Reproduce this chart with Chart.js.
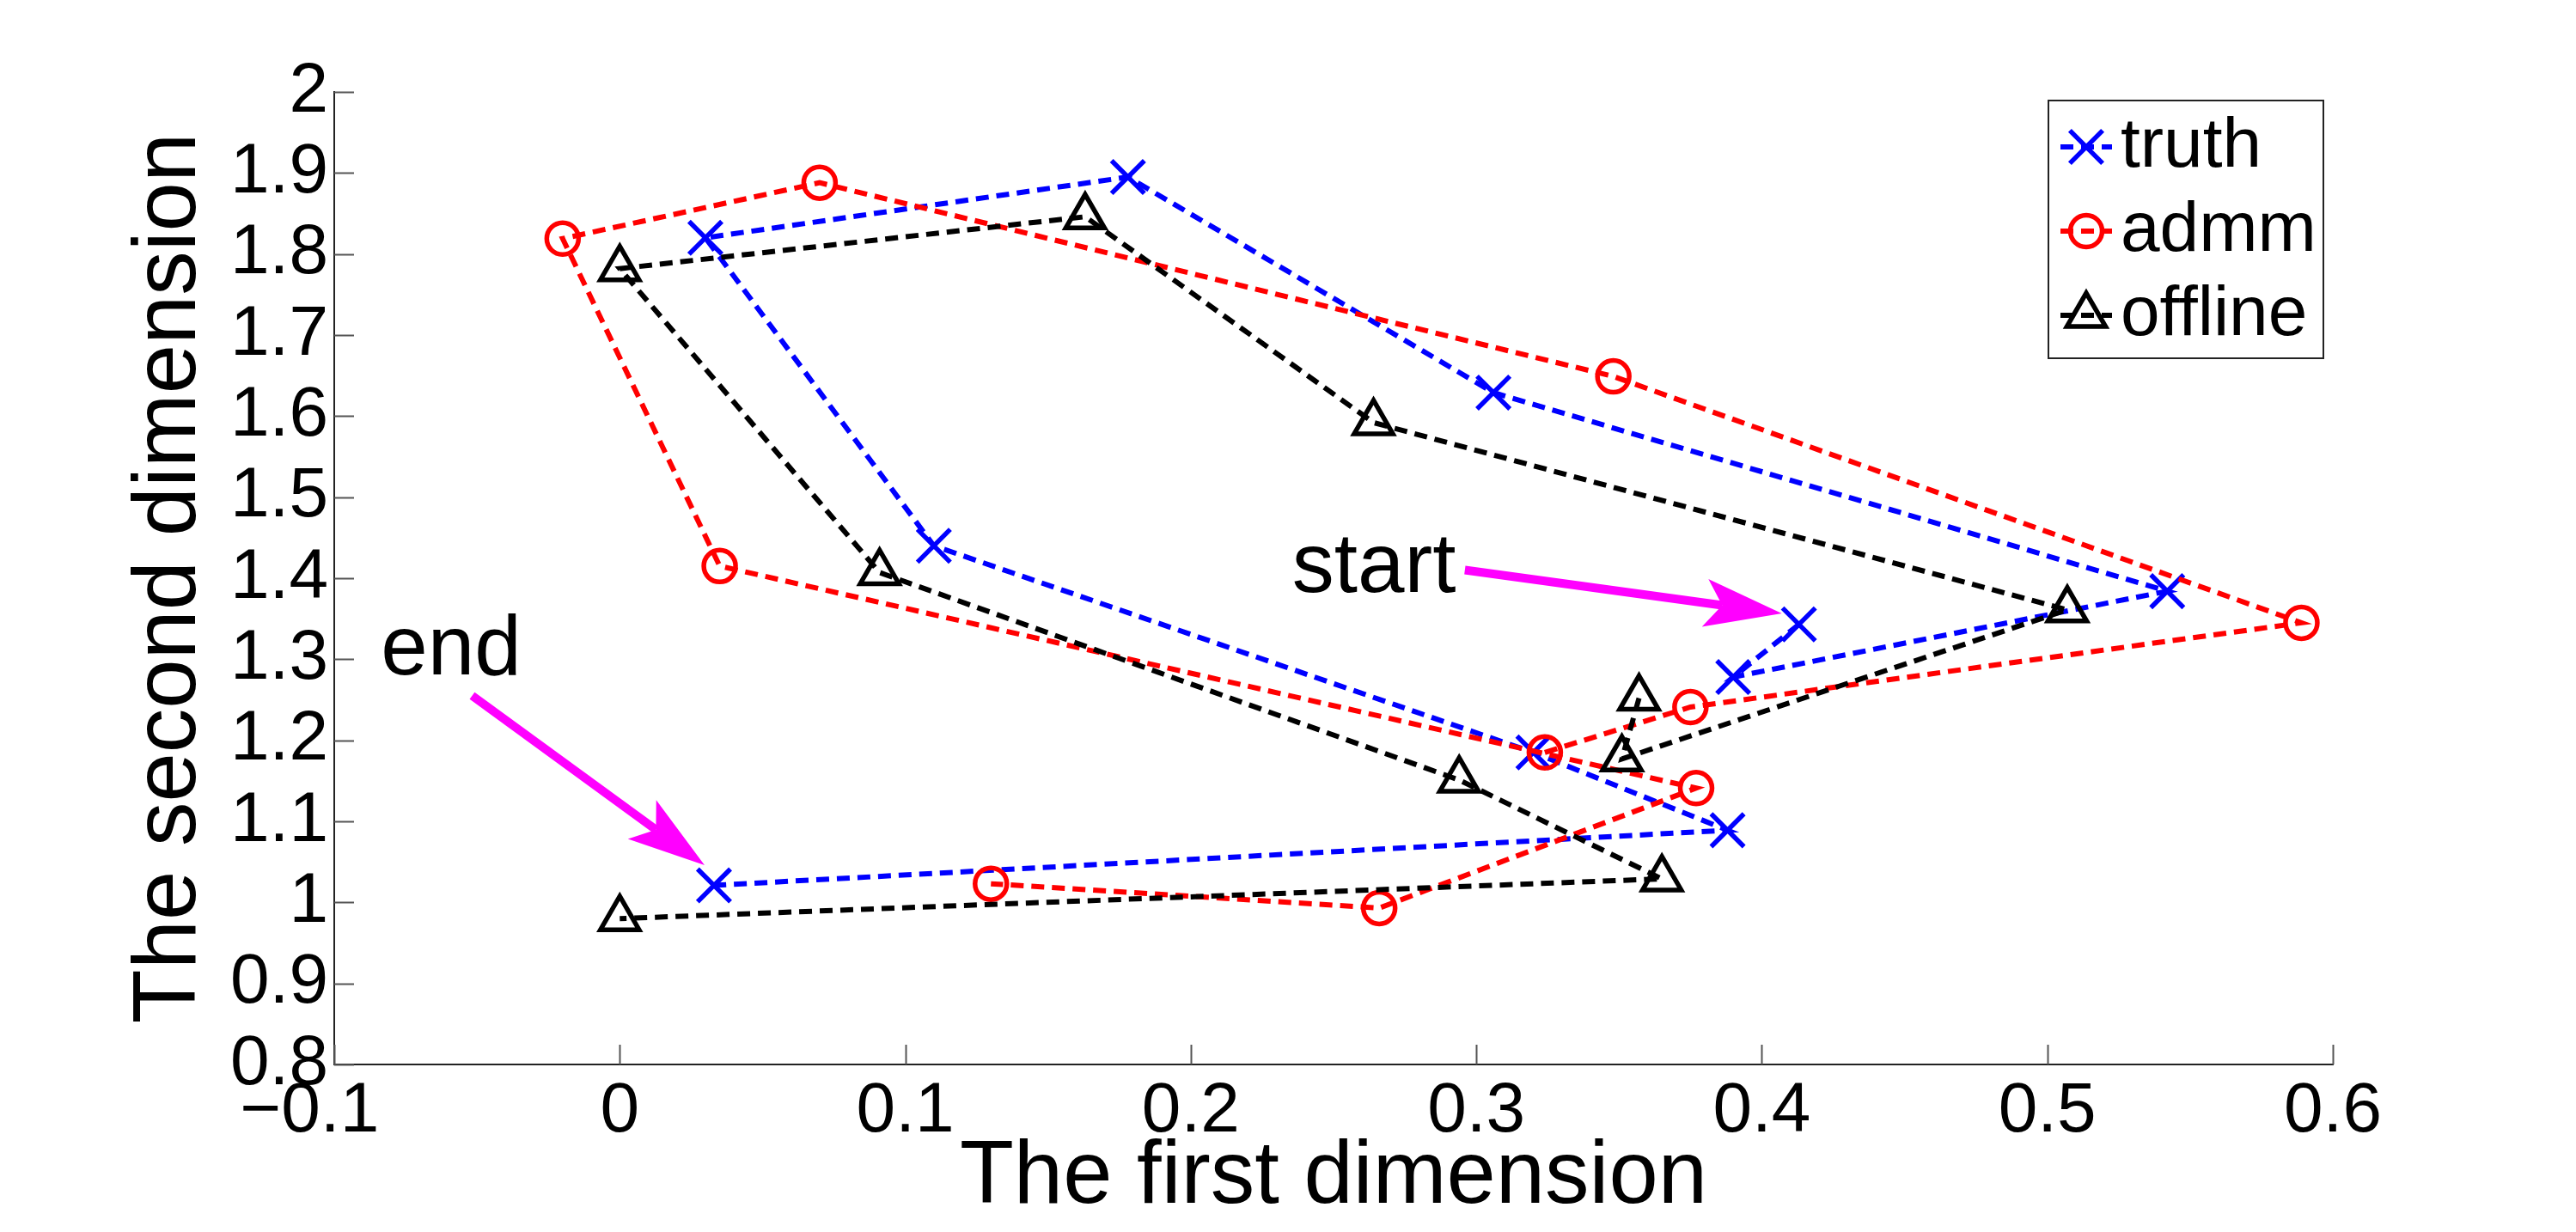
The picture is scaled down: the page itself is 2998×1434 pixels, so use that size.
<!DOCTYPE html>
<html>
<head>
<meta charset="utf-8">
<title>Trajectories</title>
<script src="https://cdn.jsdelivr.net/npm/chart.js@4.4.1/dist/chart.umd.min.js"></script>
<style>
  html, body { margin: 0; padding: 0; background: #fff; }
  canvas { display: block; }
</style>
</head>
<body>
<canvas id="traj" width="2998" height="1434"></canvas>
<script>
// axis ticks (the trailing spaces on -0.1 mimic MATLAB's placement of that label)
var xTicks = [-0.1, 0, 0.1, 0.2, 0.3, 0.4, 0.5, 0.6];
var xTickLabels = ['\u22120.1\u2002\u2009', '0', '0.1', '0.2', '0.3', '0.4', '0.5', '0.6'];
var yTicks = [0.8, 0.9, 1, 1.1, 1.2, 1.3, 1.4, 1.5, 1.6, 1.7, 1.8, 1.9, 2];
var yTickLabels = ['0.8', '0.9', '1', '1.1', '1.2', '1.3', '1.4', '1.5', '1.6', '1.7', '1.8', '1.9', '2'];

// series, in the order they were visited (start -> end)
var seriesNames = ['truth', 'admm', 'offline'];
var truthX = [0.413, 0.390, 0.542, 0.306, 0.178, 0.030, 0.110, 0.320, 0.388, 0.033];
var truthY = [1.343, 1.278, 1.384, 1.629, 1.895, 1.820, 1.440, 1.185, 1.089, 1.021];
var admmX = [0.324, 0.375, 0.589, 0.348, 0.070, -0.020, 0.035, 0.377, 0.266, 0.130];
var admmY = [1.185, 1.241, 1.345, 1.649, 1.888, 1.819, 1.415, 1.141, 0.993, 1.023];
var offlineX = [0.357, 0.351, 0.507, 0.264, 0.163, 0.000, 0.091, 0.294, 0.365, 0.000];
var offlineY = [1.252, 1.177, 1.361, 1.592, 1.846, 1.782, 1.407, 1.151, 1.029, 0.980];

// annotations (data units)
var noteText = ['start', 'end'];
var noteAt = [[0.2355, 1.383], [-0.0837, 1.281]];
var arrowFrom = [[0.296, 1.410], [-0.0517, 1.255]];
var arrowTo = [[0.407, 1.3565], [0.0297, 1.046]];

var FONT = '"Liberation Sans", Arial, sans-serif';

function toPoints(xs, ys) {
    return xs.map(function(x, i) { return {x: x, y: ys[i]}; });
}

function makeSeries(label, xs, ys, color, style, radius, order) {
    return {
        label: label,
        data: toPoints(xs, ys),
        showLine: true,
        fill: false,
        tension: 0,
        borderColor: color,
        borderWidth: 6,
        borderDash: [15, 9],
        pointStyle: style,
        pointRadius: radius,
        pointHoverRadius: radius,
        pointBorderWidth: 5.5,
        pointBorderColor: color,
        pointBackgroundColor: 'rgba(0,0,0,0)',
        clip: false,
        order: order
    };
}

// MATLAB-style ticks pointing into the axes
var inwardTicks = {
    id: 'inwardTicks',
    beforeDatasetsDraw: function(chart) {
        var ctx = chart.ctx, a = chart.chartArea;
        var xs = chart.scales.x, ys = chart.scales.y;
        ctx.save();
        ctx.strokeStyle = '#555';
        ctx.lineWidth = 2;
        ctx.beginPath();
        xTicks.forEach(function(v) {
            var px = Math.round(xs.getPixelForValue(v)) + 0.5;
            ctx.moveTo(px, a.bottom);
            ctx.lineTo(px, a.bottom - 23);
        });
        yTicks.forEach(function(v) {
            var py = Math.round(ys.getPixelForValue(v)) + 0.5;
            ctx.moveTo(a.left, py);
            ctx.lineTo(a.left + 23, py);
        });
        ctx.stroke();
        ctx.restore();
    }
};

var notes = {
    id: 'notes',
    afterDatasetsDraw: function(chart) {
        var ctx = chart.ctx;
        var xs = chart.scales.x, ys = chart.scales.y;
        ctx.save();
        ctx.fillStyle = '#000';
        ctx.font = '98px ' + FONT;
        ctx.textAlign = 'left';
        ctx.textBaseline = 'alphabetic';
        noteText.forEach(function(t, i) {
            ctx.fillText(t, xs.getPixelForValue(noteAt[i][0]), ys.getPixelForValue(noteAt[i][1]));
        });

        ctx.fillStyle = '#ff00ff';
        ctx.strokeStyle = '#ff00ff';
        arrowFrom.forEach(function(f, i) {
            var x0 = xs.getPixelForValue(f[0]), y0 = ys.getPixelForValue(f[1]);
            var x1 = xs.getPixelForValue(arrowTo[i][0]), y1 = ys.getPixelForValue(arrowTo[i][1]);
            var len = Math.hypot(x1 - x0, y1 - y0);
            var ux = (x1 - x0) / len, uy = (y1 - y0) / len;
            var nx = -uy, ny = ux;
            var headLen = 90, headW = 28, notch = 70;
            ctx.lineWidth = 10;
            ctx.beginPath();
            ctx.moveTo(x0, y0);
            ctx.lineTo(x1 - ux * notch, y1 - uy * notch);
            ctx.stroke();
            ctx.beginPath();
            ctx.moveTo(x1, y1);
            ctx.lineTo(x1 - ux * headLen + nx * headW, y1 - uy * headLen + ny * headW);
            ctx.lineTo(x1 - ux * notch, y1 - uy * notch);
            ctx.lineTo(x1 - ux * headLen - nx * headW, y1 - uy * headLen - ny * headW);
            ctx.closePath();
            ctx.fill();
        });
        ctx.restore();
    }
};

var legendBox = {
    id: 'legendBox',
    afterDraw: function(chart) {
        var ctx = chart.ctx, a = chart.chartArea;
        var w = 320, h = 300;
        var left = a.right - 11 - w, top = a.top + 10;
        ctx.save();
        ctx.fillStyle = '#fff';
        ctx.fillRect(left, top, w, h);
        ctx.strokeStyle = '#222';
        ctx.lineWidth = 2;
        ctx.strokeRect(left, top, w, h);
        chart.data.datasets.forEach(function(ds, i) {
            var y = top + 54 + i * 98;
            ctx.strokeStyle = ds.borderColor;
            ctx.lineWidth = ds.borderWidth;
            ctx.setLineDash(ds.borderDash);
            ctx.beginPath();
            ctx.moveTo(left + 14, y);
            ctx.lineTo(left + 74, y);
            ctx.stroke();
            ctx.setLineDash([]);
            ctx.lineWidth = ds.pointBorderWidth;
            ctx.fillStyle = 'rgba(0,0,0,0)';
            Chart.helpers.drawPoint(ctx, {
                pointStyle: ds.pointStyle,
                radius: ds.pointRadius,
                rotation: 0,
                borderWidth: ds.pointBorderWidth
            }, left + 44, y);
            ctx.fillStyle = '#000';
            ctx.font = '82px ' + FONT;
            ctx.textAlign = 'left';
            ctx.textBaseline = 'middle';
            ctx.fillText(ds.label, left + 84, y);
        });
        ctx.restore();
    }
};

var chartTraj = new Chart(document.getElementById('traj'), {
    type: 'scatter',
    data: {
        datasets: [
            makeSeries(seriesNames[0], truthX, truthY, '#0000ff', 'crossRot', 27, 3),
            makeSeries(seriesNames[1], admmX, admmY, '#ff0000', 'circle', 18.5, 2),
            makeSeries(seriesNames[2], offlineX, offlineY, '#000000', 'triangle', 26, 1)
        ]
    },
    options: {
        responsive: false,
        devicePixelRatio: 1,
        animation: false,
        events: [],
        layout: {
            padding: {left: 0, top: 107, right: 283, bottom: 0}
        },
        plugins: {
            legend: {display: false},
            tooltip: {enabled: false}
        },
        scales: {
            x: {
                type: 'linear',
                position: 'bottom',
                min: -0.1,
                max: 0.6,
                afterBuildTicks: function(scale) {
                    scale.ticks = xTicks.map(function(v) { return {value: v}; });
                },
                afterFit: function(scale) { scale.height = 195; },
                grid: {display: false, drawTicks: false},
                border: {display: true, color: '#222', width: 2},
                ticks: {
                    autoSkip: false,
                    maxRotation: 0,
                    padding: 6,
                    color: '#000',
                    font: {family: FONT, size: 82},
                    callback: function(value, index) { return xTickLabels[index]; }
                },
                title: {
                    display: true,
                    text: 'The first dimension',
                    color: '#000',
                    font: {family: FONT, size: 103},
                    padding: {top: 0, bottom: 1}
                }
            },
            y: {
                type: 'linear',
                position: 'left',
                min: 0.8,
                max: 2,
                afterBuildTicks: function(scale) {
                    scale.ticks = yTicks.map(function(v) { return {value: v}; });
                },
                afterFit: function(scale) { scale.width = 389; },
                grid: {display: false, drawTicks: false},
                border: {display: true, color: '#222', width: 2},
                ticks: {
                    autoSkip: false,
                    padding: 7,
                    color: '#000',
                    font: {family: FONT, size: 82},
                    callback: function(value, index) { return yTickLabels[index]; }
                },
                title: {
                    display: true,
                    text: 'The second dimension',
                    color: '#000',
                    font: {family: FONT, size: 103},
                    padding: {top: 137, bottom: 0}
                }
            }
        }
    },
    plugins: [inwardTicks, notes, legendBox]
});
</script>
</body>
</html>
